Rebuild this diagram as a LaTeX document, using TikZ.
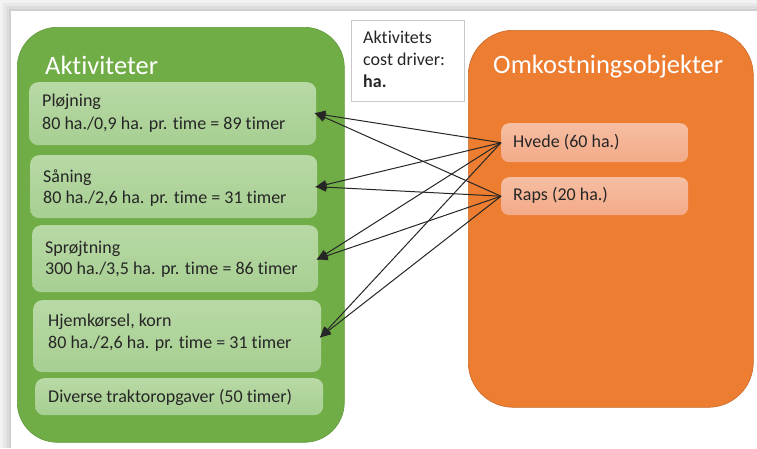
\documentclass[tikz,border=0pt]{standalone}
\usepackage{fontspec}
\setmainfont{Carlito}[Ligatures={NoCommon}]
\usetikzlibrary{arrows.meta}
\definecolor{grn}{HTML}{70AD47}
\definecolor{grnD}{HTML}{5F9A3B}
\definecolor{grnL1}{HTML}{B8D9A5}
\definecolor{grnL2}{HTML}{A7CF92}
\definecolor{org}{HTML}{ED7D31}
\definecolor{orgD}{HTML}{C96A2A}
\definecolor{orgL1}{HTML}{F6BEA2}
\definecolor{orgL2}{HTML}{F3AA88}
\definecolor{txt}{HTML}{262626}
\definecolor{boxgray}{HTML}{C8C8C8}
\begin{document}
\begin{tikzpicture}[x=1pt,y=-1pt,
  bigbox/.style={anchor=north west, inner sep=0pt, line width=0.6pt},
  subgreen/.style={anchor=north west, inner sep=0pt, rounded corners=9pt, top color=grnL1, bottom color=grnL2, draw=none},
  suborange/.style={anchor=north west, inner sep=0pt, rounded corners=8pt, top color=orgL1, bottom color=orgL2, draw=none},
  lbl/.style={anchor=base west, inner sep=0pt, text=txt, font=\fontsize{18}{22}\selectfont},
  ttl/.style={anchor=base west, inner sep=0pt, text=white, font=\fontsize{26.5}{30}\selectfont},
  arr/.style={draw=black!85, line width=1pt, -{Triangle[length=11pt,width=9pt]}, shorten >=-2pt}
]
\useasboundingbox (0,0) rectangle (757,448);
% frame shadow
\fill[gray!10] (0,0) rectangle (757,448);
\fill[gray!18] (3,3) rectangle (757,448);
\fill[gray!27] (6,6) rectangle (757,448);
\fill[gray!38] (9,9) rectangle (757,448);
\fill[white] (11,11) rectangle (757,448);

% big containers
\node[bigbox, draw=grnD, fill=grn, rounded corners=40pt, minimum width=327pt, minimum height=415pt] (akt) at (17,27) {};
\node[bigbox, draw=orgD, fill=org, rounded corners=45pt, minimum width=285pt, minimum height=377pt] (omk) at (468,30) {};

\node[ttl] (aktT) at (45,74) {Aktiviteter};
\node[ttl] (omkT) at (493,73) {Omkostningsobjekter};

% activity boxes
\node[subgreen, minimum width=287pt, minimum height=63pt] (plo) at (29,82) {};
\node[subgreen, minimum width=287pt, minimum height=63pt] (saa) at (30,155) {};
\node[subgreen, minimum width=286pt, minimum height=67pt] (spr) at (32,225) {};
\node[subgreen, minimum width=288pt, minimum height=72pt] (hje) at (33,300) {};
\node[subgreen, minimum width=288pt, minimum height=37pt] (div) at (35,378) {};

\node[lbl] (ploA) at (42,106) {Pløjning};
\node[lbl] (ploB) at (42,129) {80 ha./0,9 ha. pr. time = 89 timer};
\node[lbl] (saaA) at (43,182) {Såning};
\node[lbl] (saaB) at (43,203) {80 ha./2,6 ha. pr. time = 31 timer};
\node[lbl] (sprA) at (45,253) {Sprøjtning};
\node[lbl] (sprB) at (45,274) {300 ha./3,5 ha. pr. time = 86 timer};
\node[lbl] (hjeA) at (48,326) {Hjemkørsel, korn};
\node[lbl] (hjeB) at (48,348) {80 ha./2,6 ha. pr. time = 31 timer};
\node[lbl] (divA) at (48,402) {Diverse traktoropgaver (50 timer)};

% cost objects
\node[suborange, minimum width=187pt, minimum height=39pt] (hve) at (501,123) {};
\node[suborange, minimum width=187pt, minimum height=38pt] (rap) at (501,177) {};
\node[lbl] (hveT) at (513,147) {Hvede (60 ha.)};
\node[lbl] (rapT) at (513,200) {Raps (20 ha.)};

% cost driver box
\node[anchor=north west, inner sep=0pt, draw=boxgray, line width=1pt, fill=white, minimum width=113pt, minimum height=81pt] (drv) at (351,20) {};
\node[lbl] (drvA) at (363,43) {Aktivitets};
\node[lbl] (drvB) at (363,65) {cost driver:};
\node[lbl] (drvC) at (363,87) {\textbf{ha.}};

% arrows
\foreach \s in {hve,rap}{
  \foreach \t in {plo,saa,spr,hje}{
    \draw[arr] (\s.west) -- (\t.east);
  }
}
\end{tikzpicture}
\end{document}
